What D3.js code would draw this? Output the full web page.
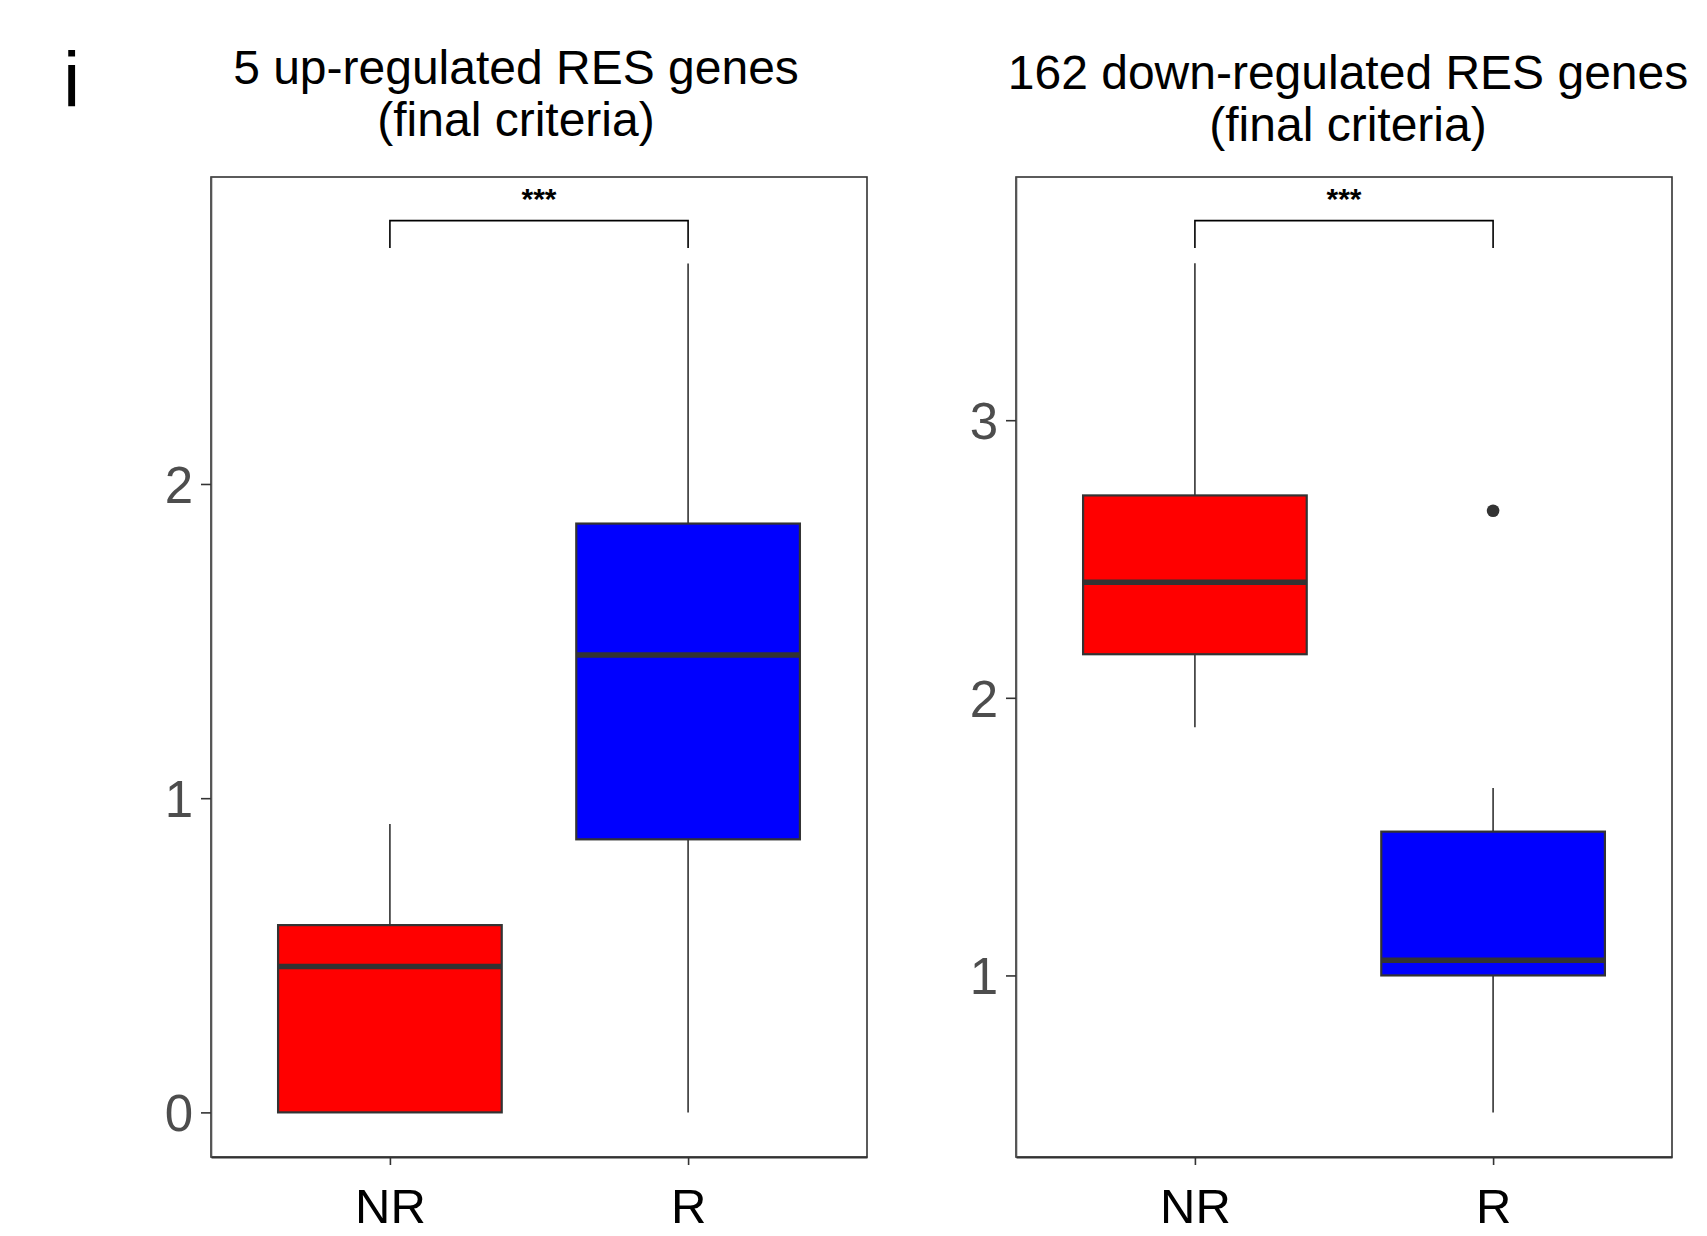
<!DOCTYPE html>
<html>
<head>
<meta charset="utf-8">
<script src="https://cdn.jsdelivr.net/npm/d3@7"></script>
<style>
  html, body { margin: 0; padding: 0; background: #ffffff; }
  svg { display: block; }
  text { font-family: "Liberation Sans", Arial, Helvetica, sans-serif; }
</style>
</head>
<body>
<script>
// ---- data ----
const groups = ["NR", "R"];
const groupColors = ["#FF0000", "#0000FF"];

// panel 1: 5 up-regulated RES genes
const upTitle = ["5 up-regulated RES genes", "(final criteria)"];
const upLow = [0.0, 0.0];
const upQ1 = [0.0, 0.869];
const upMedian = [0.464, 1.456];
const upQ3 = [0.596, 1.874];
const upHigh = [0.918, 2.702];
const upOutliers = [[], []];
const upTicks = [0, 1, 2];
const upDomain = [-0.142, 2.977];
const upBracket = [2.838, 2.751];   // bracket level, tip end

// panel 2: 162 down-regulated RES genes
const downTitle = ["162 down-regulated RES genes", "(final criteria)"];
const downLow = [1.894, 0.506];
const downQ1 = [2.157, 1.0];
const downMedian = [2.416, 1.055];
const downQ3 = [2.729, 1.518];
const downHigh = [3.565, 1.675];
const downOutliers = [[], [2.674]];
const downTicks = [1, 2, 3];
const downDomain = [0.346, 3.876];
const downBracket = [3.719, 3.620];

const sigLabel = "***";

// ---- drawing ----
const W = 1707, H = 1236;
const svg = d3.select("body").append("svg").attr("width", W).attr("height", H);
svg.append("rect").attr("width", W).attr("height", H).attr("fill", "#fff");

svg.append("text").attr("x", 63).attr("y", 107)
  .attr("font-size", 78).attr("fill", "#000").text("i");

function panel(cfg) {
  const {left, right, top, bottom, titleX, titleY, title} = cfg;
  const g = svg.append("g");

  const x = d3.scalePoint().domain(groups).range([left, right]).padding(0.6);
  const y = d3.scaleLinear().domain(cfg.domain).range([bottom, top]);
  const boxW = x.step() * 0.75;

  // title
  title.forEach((t, i) => {
    g.append("text").attr("x", titleX).attr("y", titleY + i * 52)
      .attr("text-anchor", "middle").attr("font-size", 48).attr("fill", "#000").text(t);
  });

  // panel border
  g.append("rect").attr("x", left).attr("y", top)
    .attr("width", right - left).attr("height", bottom - top)
    .attr("fill", "none").attr("stroke", "#333").attr("stroke-width", 1.6);

  // y axis
  const yAxis = g.append("g").attr("transform", `translate(${left},0)`)
    .call(d3.axisLeft(y).tickValues(cfg.ticks).tickFormat(d3.format("d"))
      .tickSize(10).tickSizeOuter(0).tickPadding(8));
  yAxis.select(".domain").attr("stroke", "#555").attr("stroke-width", 1.6);
  yAxis.selectAll(".tick line").attr("stroke", "#333").attr("stroke-width", 1.6);
  yAxis.selectAll(".tick text").attr("font-size", 51).attr("fill", "#4D4D4D")
    .attr("font-family", "Liberation Sans, Arial, sans-serif").attr("dy", "0.36em");

  // x axis
  const xAxis = g.append("g").attr("transform", `translate(0,${bottom})`)
    .call(d3.axisBottom(x).tickSize(8).tickSizeOuter(0).tickPadding(23));
  xAxis.select(".domain").attr("stroke", "#333").attr("stroke-width", 1.8);
  xAxis.selectAll(".tick line").attr("stroke", "#333").attr("stroke-width", 1.6);
  xAxis.selectAll(".tick text").attr("font-size", 49).attr("fill", "#000")
    .attr("font-family", "Liberation Sans, Arial, sans-serif").attr("dy", "0.71em");

  // boxes
  groups.forEach((grp, i) => {
    const cx = x(grp);
    g.append("line").attr("x1", cx).attr("x2", cx)
      .attr("y1", y(cfg.q3[i])).attr("y2", y(cfg.high[i]))
      .attr("stroke", "#333").attr("stroke-width", 1.6);
    g.append("line").attr("x1", cx).attr("x2", cx)
      .attr("y1", y(cfg.q1[i])).attr("y2", y(cfg.low[i]))
      .attr("stroke", "#333").attr("stroke-width", 1.6);
    g.append("rect").attr("x", cx - boxW / 2).attr("y", y(cfg.q3[i]))
      .attr("width", boxW).attr("height", y(cfg.q1[i]) - y(cfg.q3[i]))
      .attr("fill", groupColors[i]).attr("stroke", "#333").attr("stroke-width", 2.2);
    g.append("line").attr("x1", cx - boxW / 2).attr("x2", cx + boxW / 2)
      .attr("y1", y(cfg.median[i])).attr("y2", y(cfg.median[i]))
      .attr("stroke", "#333").attr("stroke-width", 5.5);
    cfg.outliers[i].forEach(v => {
      g.append("circle").attr("cx", cx).attr("cy", y(v)).attr("r", 6.3).attr("fill", "#333");
    });
  });

  // significance bracket
  const [lvl, tip] = cfg.bracket;
  const x0 = x(groups[0]), x1 = x(groups[1]);
  g.append("path")
    .attr("d", `M${x0},${y(tip)}V${y(lvl)}H${x1}V${y(tip)}`)
    .attr("fill", "none").attr("stroke", "#000").attr("stroke-width", 1.6);
  g.append("text").attr("x", (x0 + x1) / 2).attr("y", y(lvl) - 12)
    .attr("text-anchor", "middle").attr("font-size", 30).attr("font-weight", "bold")
    .attr("fill", "#000").text(sigLabel);
}

panel({
  left: 211, right: 867, top: 177, bottom: 1157,
  titleX: 516, titleY: 84, title: upTitle,
  domain: upDomain, ticks: upTicks, bracket: upBracket,
  low: upLow, q1: upQ1, median: upMedian, q3: upQ3, high: upHigh, outliers: upOutliers
});

panel({
  left: 1016, right: 1672, top: 177, bottom: 1157,
  titleX: 1348, titleY: 89, title: downTitle,
  domain: downDomain, ticks: downTicks, bracket: downBracket,
  low: downLow, q1: downQ1, median: downMedian, q3: downQ3, high: downHigh, outliers: downOutliers
});
</script>
</body>
</html>
